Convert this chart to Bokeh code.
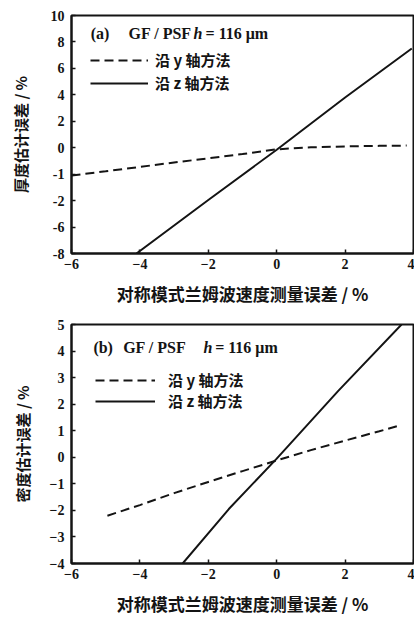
from bokeh.plotting import figure
from bokeh.models import Legend, LegendItem, Label, FixedTicker, Range1d
from bokeh.layouts import column
from bokeh.embed import file_html
from bokeh.resources import INLINE

# ---------------- data: panel (a) ----------------
a_x_ticks = [-6, -4, -2, 0, 2, 4]
a_y_ticks = [-8, -6, -4, -2, 0, 2, 4, 6, 8, 10]
a_y_tick_labels = ["-8", "-6", "-2", "-1", "0", "2", "4", "6", "8", "10"]
a_ymethod_x = [-6, -5, -4, -3, -2, -1, 0, 1, 2, 3, 3.8]
a_ymethod_y = [-2.1, -1.78, -1.45, -1.12, -0.8, -0.48, -0.12, 0.03, 0.1, 0.14, 0.16]
a_zmethod_x = [-4.1, -2, 0, 2, 3.95]
a_zmethod_y = [-8.0, -3.95, -0.15, 3.8, 7.5]

# ---------------- data: panel (b) ----------------
b_x_ticks = [-6, -4, -2, 0, 2, 4]
b_y_ticks = [-4, -3, -2, -1, 0, 1, 2, 3, 4, 5]
b_ymethod_x = [-4.95, -4, -3, -2, -1, 0, 1, 2, 3, 3.6]
b_ymethod_y = [-2.2, -1.8, -1.35, -0.93, -0.52, -0.12, 0.27, 0.63, 0.98, 1.2]
b_zmethod_x = [-2.75, -1.4, 0, 1.8, 3.65]
b_zmethod_y = [-4.0, -1.95, -0.05, 2.5, 5.0]

legend_y = "沿 y 轴方法"
legend_z = "沿 z 轴方法"
x_label = "对称模式兰姆波速度测量误差 / %"
a_y_label = "厚度估计误差 / %"
b_y_label = "密度估计误差 / %"

SERIF = "Liberation Serif"
CJK = "Noto Sans CJK SC"
INK = "#141414"


def style(p, xticks, yticks, overrides, ylab, ylab_standoff):
    p.grid.visible = False
    p.outline_line_color = INK
    p.outline_line_width = 2
    p.background_fill_color = "white"
    p.border_fill_color = "white"
    p.xaxis.ticker = FixedTicker(ticks=xticks)
    p.yaxis.ticker = FixedTicker(ticks=yticks)
    if overrides:
        p.yaxis.major_label_overrides = overrides
    for ax in (p.xaxis[0], p.yaxis[0]):
        ax.axis_line_width = 2
        ax.axis_line_color = INK
        ax.major_tick_in = 4
        ax.major_tick_out = 0
        ax.major_tick_line_width = 1.5
        ax.major_tick_line_color = INK
        ax.minor_tick_in = 0
        ax.minor_tick_out = 0
        ax.major_label_text_font = SERIF
        ax.major_label_text_font_style = "bold"
        ax.major_label_text_font_size = "14px"
        ax.major_label_text_color = INK
        ax.axis_label_text_font = CJK
        ax.axis_label_text_font_style = "bold"
        ax.axis_label_text_color = INK
    p.xaxis.axis_label = x_label
    p.xaxis.axis_label_text_font_size = "17px"
    p.xaxis.major_label_standoff = 5
    p.xaxis.axis_label_standoff = 9
    p.yaxis.axis_label = ylab
    p.yaxis.axis_label_text_font_size = "15px"
    p.yaxis.major_label_standoff = 7
    p.yaxis.axis_label_standoff = ylab_standoff


def heading(p, tag, xs, y):
    parts = [(tag, "bold"), ("GF / PSF", "bold"), ("h", "bold italic"), ("= 116 μm", "bold")]
    for (txt, st), x in zip(parts, xs):
        p.add_layout(Label(x=x, y=y, text=txt, text_font=SERIF, text_font_style=st,
                           text_font_size="16px", text_baseline="middle", text_color=INK))


def add_legend(p, r1, r2, loc, glyph_w, standoff, row_h, spacing):
    leg = Legend(items=[LegendItem(label=legend_y, renderers=[r1]),
                        LegendItem(label=legend_z, renderers=[r2])],
                 location=loc)
    leg.background_fill_alpha = 0
    leg.border_line_alpha = 0
    leg.padding = 0
    leg.margin = 0
    leg.spacing = spacing
    leg.glyph_width = glyph_w
    leg.glyph_height = row_h
    leg.label_height = row_h
    leg.label_standoff = standoff
    leg.label_text_font = CJK
    leg.label_text_font_style = "bold"
    leg.label_text_font_size = "15px"
    leg.label_text_color = INK
    p.add_layout(leg)


# tick label overrides for panel (a), with both numeric and string keys
a_overrides = {}
for t, s in zip(a_y_ticks, a_y_tick_labels):
    a_overrides[float(t)] = s
    a_overrides[str(t)] = s

# ---------------- panel (a) ----------------
pa = figure(width=414, height=309, x_range=Range1d(-6, 4), y_range=Range1d(-8, 10),
            output_backend="svg", toolbar_location=None,
            min_border_left=71, min_border_right=1, min_border_top=15, min_border_bottom=56)
style(pa, a_x_ticks, a_y_ticks, a_overrides, a_y_label, 17)
ra1 = pa.line(a_ymethod_x, a_ymethod_y, line_dash="9 5", line_width=2, line_color=INK)
ra2 = pa.line(a_zmethod_x, a_zmethod_y, line_width=2, line_color=INK)
heading(pa, "(a)", [-5.44, -4.33, -2.43, -2.08], 8.64)
add_legend(pa, ra1, ra2, (19, 160), 58, 7, 20, 2)

# ---------------- panel (b) ----------------
pb = figure(width=414, height=309, x_range=Range1d(-6, 4), y_range=Range1d(-4, 5),
            output_backend="svg", toolbar_location=None,
            min_border_left=68, min_border_right=1, min_border_top=15, min_border_bottom=55)
style(pb, b_x_ticks, b_y_ticks, None, b_y_label, 14)
rb1 = pb.line(b_ymethod_x, b_ymethod_y, line_dash="9 5", line_width=2, line_color=INK)
rb2 = pb.line(b_zmethod_x, b_zmethod_y, line_width=2, line_color=INK)
heading(pb, "(b)", [-5.36, -4.49, -2.14, -1.80], 4.13)
add_legend(pb, rb1, rb2, (24, 152), 60, 13, 20, 0)

layout = column(pa, pb, spacing=0)
open("out.html", "w").write(file_html(layout, INLINE))
